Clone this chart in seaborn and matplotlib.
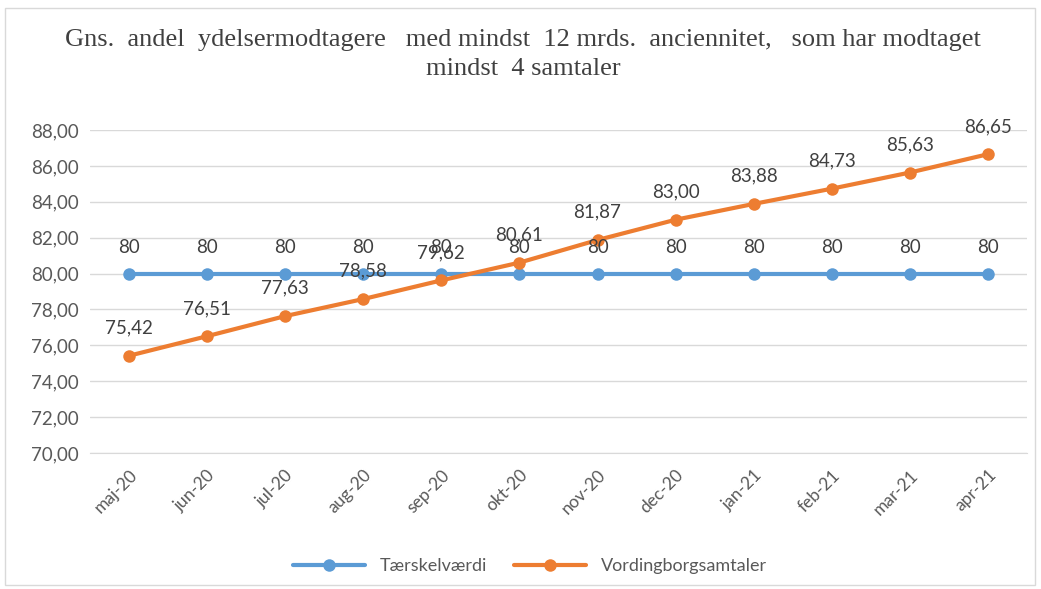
import pandas as pd
import seaborn as sns
import matplotlib.pyplot as plt
import matplotlib.patches as mpatches
import numpy as np

# data
months = ['maj-20', 'jun-20', 'jul-20', 'aug-20', 'sep-20', 'okt-20',
          'nov-20', 'dec-20', 'jan-21', 'feb-21', 'mar-21', 'apr-21']
taerskel = [80, 80, 80, 80, 80, 80, 80, 80, 80, 80, 80, 80]
vording = [75.42, 76.51, 77.63, 78.58, 79.62, 80.61, 81.87, 83.00, 83.88, 84.73, 85.63, 86.65]
series_names = ['Tærskelværdi', 'Vordingborgsamtaler']
colors = ['#5b9bd5', '#ed7d31']

sns.set_style('white')
plt.rcParams['font.family'] = ['Lato', 'DejaVu Sans']

df = pd.DataFrame({
    'x': list(range(len(months))) * 2,
    'value': taerskel + vording,
    'serie': [series_names[0]] * len(months) + [series_names[1]] * len(months),
})

fig = plt.figure(figsize=(10.41, 5.89), dpi=100)
ax = fig.add_axes([90/1041, 1 - 453/589, (1027 - 90)/1041, (453 - 130)/589])

sns.lineplot(data=df, x='x', y='value', hue='serie', palette=colors, marker='o',
             markersize=9, markeredgewidth=0, linewidth=3, ax=ax)

ax.set_xlim(-0.5, len(months) - 0.5)
ax.set_ylim(70, 88)
ax.set_yticks(np.arange(70, 89, 2))
ax.set_yticklabels([f'{v:.2f}'.replace('.', ',') for v in np.arange(70, 89, 2)],
                   fontsize=13.5, color='#595959')
ax.set_xticks(range(len(months)))
ax.set_xticklabels(months, rotation=45, ha='right', rotation_mode='anchor',
                   fontsize=12.5, color='#595959')
ax.set_xticks(np.arange(-0.5, len(months), 1), minor=True)
ax.tick_params(axis='x', which='major', length=0, pad=10)
ax.tick_params(axis='x', which='minor', length=6, color='#d9d9d9', width=1)
ax.tick_params(axis='y', length=0, pad=8)
ax.grid(axis='y', color='#d9d9d9', linewidth=1)
ax.set_axisbelow(True)
for s in ['top', 'right', 'left']:
    ax.spines[s].set_visible(False)
ax.spines['bottom'].set_color('#d9d9d9')
ax.set_xlabel('')
ax.set_ylabel('')

# data labels
for i in range(len(months)):
    ax.annotate(f'{taerskel[i]}', (i, taerskel[i]), xytext=(0, 19), textcoords='offset points',
                ha='center', va='center', fontsize=13.5, color='#404040')
    ax.annotate(f'{vording[i]:.2f}'.replace('.', ','), (i, vording[i]), xytext=(0, 20),
                textcoords='offset points', ha='center', va='center', fontsize=13.5, color='#404040')

fig.suptitle('Gns.  andel  ydelsermodtagere   med mindst  12 mrds.  anciennitet,   som har modtaget\nmindst  4 samtaler',
             x=523/1041, y=1 - 29/589, va='top', fontsize=19, family='Liberation Serif', color='#404040',
             linespacing=1.4)

sns.move_legend(ax, 'center', bbox_to_anchor=(530/1041, 1 - 566/589),
                bbox_transform=fig.transFigure, ncol=2, frameon=False, title=None,
                fontsize=13, handlelength=4, columnspacing=1.5)
for t in ax.get_legend().get_texts():
    t.set_color('#595959')

# chart border
fig.patches.append(mpatches.Rectangle((5/1041, 4/589), 1030/1041, 577/589, transform=fig.transFigure,
                                      fill=False, edgecolor='#d9d9d9', linewidth=1))

plt.savefig('out.png', dpi=100)
